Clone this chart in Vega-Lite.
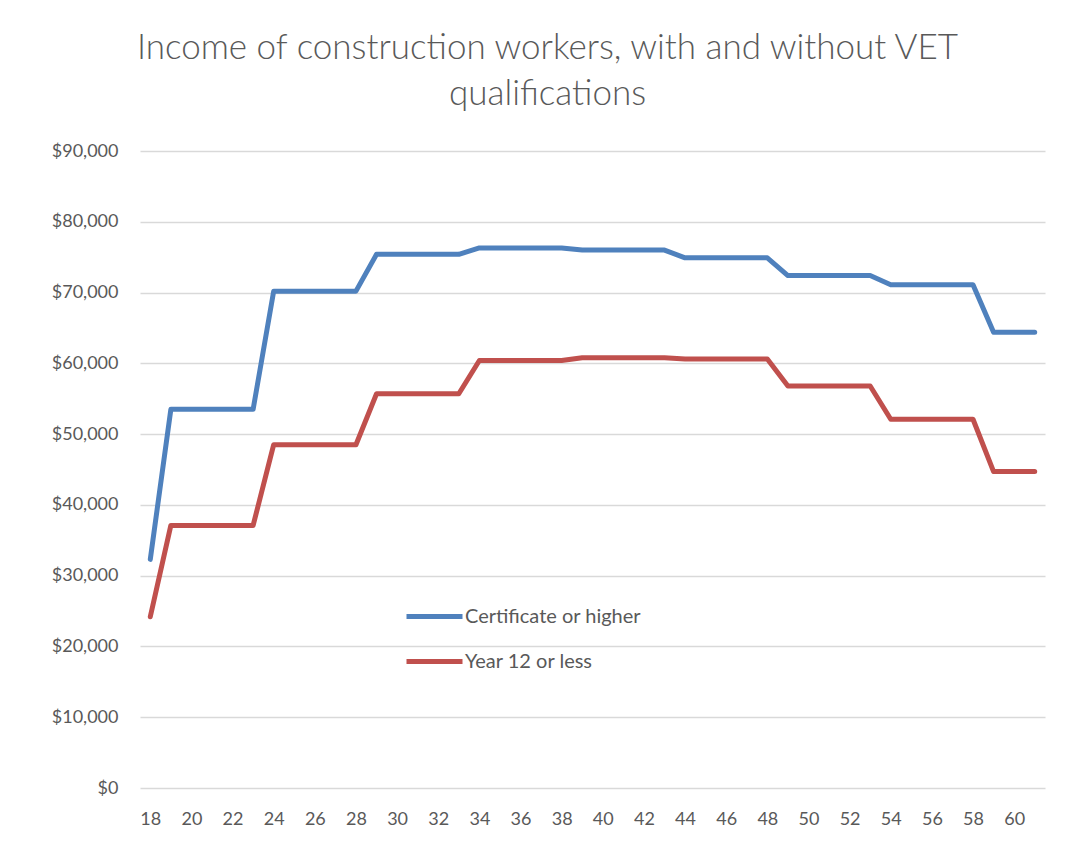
{
  "$schema": "https://vega.github.io/schema/vega-lite/v6.json",
  "width": 905,
  "height": 637,
  "autosize": {"type": "none"},
  "padding": {"left": 140, "top": 151, "right": 34, "bottom": 57},
  "background": "white",
  "config": {
    "view": {"stroke": null},
    "font": "Lato"
  },
  "title": {
    "text": ["Income of construction workers, with and without VET", "qualifications"],
    "fontSize": 35,
    "font": "Lato",
    "fontWeight": 300,
    "color": "#595959",
    "lineHeight": 46,
    "anchor": "middle",
    "dx": -45,
    "offset": 30
  },
  "data": {
    "values": [
      {"age": 18, "series": "Certificate or higher", "income": 32300},
      {"age": 19, "series": "Certificate or higher", "income": 53500},
      {"age": 20, "series": "Certificate or higher", "income": 53500},
      {"age": 21, "series": "Certificate or higher", "income": 53500},
      {"age": 22, "series": "Certificate or higher", "income": 53500},
      {"age": 23, "series": "Certificate or higher", "income": 53500},
      {"age": 24, "series": "Certificate or higher", "income": 70200},
      {"age": 25, "series": "Certificate or higher", "income": 70200},
      {"age": 26, "series": "Certificate or higher", "income": 70200},
      {"age": 27, "series": "Certificate or higher", "income": 70200},
      {"age": 28, "series": "Certificate or higher", "income": 70200},
      {"age": 29, "series": "Certificate or higher", "income": 75400},
      {"age": 30, "series": "Certificate or higher", "income": 75400},
      {"age": 31, "series": "Certificate or higher", "income": 75400},
      {"age": 32, "series": "Certificate or higher", "income": 75400},
      {"age": 33, "series": "Certificate or higher", "income": 75400},
      {"age": 34, "series": "Certificate or higher", "income": 76300},
      {"age": 35, "series": "Certificate or higher", "income": 76300},
      {"age": 36, "series": "Certificate or higher", "income": 76300},
      {"age": 37, "series": "Certificate or higher", "income": 76300},
      {"age": 38, "series": "Certificate or higher", "income": 76300},
      {"age": 39, "series": "Certificate or higher", "income": 76000},
      {"age": 40, "series": "Certificate or higher", "income": 76000},
      {"age": 41, "series": "Certificate or higher", "income": 76000},
      {"age": 42, "series": "Certificate or higher", "income": 76000},
      {"age": 43, "series": "Certificate or higher", "income": 76000},
      {"age": 44, "series": "Certificate or higher", "income": 74900},
      {"age": 45, "series": "Certificate or higher", "income": 74900},
      {"age": 46, "series": "Certificate or higher", "income": 74900},
      {"age": 47, "series": "Certificate or higher", "income": 74900},
      {"age": 48, "series": "Certificate or higher", "income": 74900},
      {"age": 49, "series": "Certificate or higher", "income": 72400},
      {"age": 50, "series": "Certificate or higher", "income": 72400},
      {"age": 51, "series": "Certificate or higher", "income": 72400},
      {"age": 52, "series": "Certificate or higher", "income": 72400},
      {"age": 53, "series": "Certificate or higher", "income": 72400},
      {"age": 54, "series": "Certificate or higher", "income": 71100},
      {"age": 55, "series": "Certificate or higher", "income": 71100},
      {"age": 56, "series": "Certificate or higher", "income": 71100},
      {"age": 57, "series": "Certificate or higher", "income": 71100},
      {"age": 58, "series": "Certificate or higher", "income": 71100},
      {"age": 59, "series": "Certificate or higher", "income": 64400},
      {"age": 60, "series": "Certificate or higher", "income": 64400},
      {"age": 61, "series": "Certificate or higher", "income": 64400},
      {"age": 18, "series": "Year 12 or less", "income": 24200},
      {"age": 19, "series": "Year 12 or less", "income": 37100},
      {"age": 20, "series": "Year 12 or less", "income": 37100},
      {"age": 21, "series": "Year 12 or less", "income": 37100},
      {"age": 22, "series": "Year 12 or less", "income": 37100},
      {"age": 23, "series": "Year 12 or less", "income": 37100},
      {"age": 24, "series": "Year 12 or less", "income": 48500},
      {"age": 25, "series": "Year 12 or less", "income": 48500},
      {"age": 26, "series": "Year 12 or less", "income": 48500},
      {"age": 27, "series": "Year 12 or less", "income": 48500},
      {"age": 28, "series": "Year 12 or less", "income": 48500},
      {"age": 29, "series": "Year 12 or less", "income": 55700},
      {"age": 30, "series": "Year 12 or less", "income": 55700},
      {"age": 31, "series": "Year 12 or less", "income": 55700},
      {"age": 32, "series": "Year 12 or less", "income": 55700},
      {"age": 33, "series": "Year 12 or less", "income": 55700},
      {"age": 34, "series": "Year 12 or less", "income": 60400},
      {"age": 35, "series": "Year 12 or less", "income": 60400},
      {"age": 36, "series": "Year 12 or less", "income": 60400},
      {"age": 37, "series": "Year 12 or less", "income": 60400},
      {"age": 38, "series": "Year 12 or less", "income": 60400},
      {"age": 39, "series": "Year 12 or less", "income": 60800},
      {"age": 40, "series": "Year 12 or less", "income": 60800},
      {"age": 41, "series": "Year 12 or less", "income": 60800},
      {"age": 42, "series": "Year 12 or less", "income": 60800},
      {"age": 43, "series": "Year 12 or less", "income": 60800},
      {"age": 44, "series": "Year 12 or less", "income": 60600},
      {"age": 45, "series": "Year 12 or less", "income": 60600},
      {"age": 46, "series": "Year 12 or less", "income": 60600},
      {"age": 47, "series": "Year 12 or less", "income": 60600},
      {"age": 48, "series": "Year 12 or less", "income": 60600},
      {"age": 49, "series": "Year 12 or less", "income": 56800},
      {"age": 50, "series": "Year 12 or less", "income": 56800},
      {"age": 51, "series": "Year 12 or less", "income": 56800},
      {"age": 52, "series": "Year 12 or less", "income": 56800},
      {"age": 53, "series": "Year 12 or less", "income": 56800},
      {"age": 54, "series": "Year 12 or less", "income": 52100},
      {"age": 55, "series": "Year 12 or less", "income": 52100},
      {"age": 56, "series": "Year 12 or less", "income": 52100},
      {"age": 57, "series": "Year 12 or less", "income": 52100},
      {"age": 58, "series": "Year 12 or less", "income": 52100},
      {"age": 59, "series": "Year 12 or less", "income": 44700},
      {"age": 60, "series": "Year 12 or less", "income": 44700},
      {"age": 61, "series": "Year 12 or less", "income": 44700}
    ]
  },
  "mark": {"type": "line", "strokeWidth": 5, "strokeJoin": "round", "strokeCap": "round"},
  "encoding": {
    "x": {
      "field": "age",
      "type": "quantitative",
      "scale": {"domain": [17.5, 61.5], "nice": false, "zero": false},
      "axis": {
        "title": null,
        "values": [18, 20, 22, 24, 26, 28, 30, 32, 34, 36, 38, 40, 42, 44, 46, 48, 50, 52, 54, 56, 58, 60],
        "format": "d",
        "grid": false,
        "domain": false,
        "ticks": false,
        "labelPadding": 22,
        "labelFontSize": 18,
        "labelColor": "#595959",
        "labelFont": "Lato"
      }
    },
    "y": {
      "field": "income",
      "type": "quantitative",
      "scale": {"domain": [0, 90000], "nice": false},
      "axis": {
        "title": null,
        "values": [0, 10000, 20000, 30000, 40000, 50000, 60000, 70000, 80000, 90000],
        "format": "$,.0f",
        "grid": true,
        "gridColor": "#d9d9d9",
        "gridWidth": 1.5,
        "domain": false,
        "ticks": false,
        "labelPadding": 22,
        "labelFontSize": 18,
        "labelColor": "#595959",
        "labelFont": "Lato"
      }
    },
    "color": {
      "field": "series",
      "type": "nominal",
      "scale": {"domain": ["Certificate or higher", "Year 12 or less"], "range": ["#4F81BD", "#C0504D"]},
      "legend": {
        "title": null,
        "orient": "none",
        "legendX": 264,
        "legendY": 435,
        "symbolType": "stroke",
        "symbolSize": 3136,
        "symbolStrokeWidth": 5,
        "labelFontSize": 20,
        "labelLimit": 400,
        "labelColor": "#595959",
        "labelFont": "Lato",
        "labelOffset": 0,
        "rowPadding": 4
      }
    }
  }
}
